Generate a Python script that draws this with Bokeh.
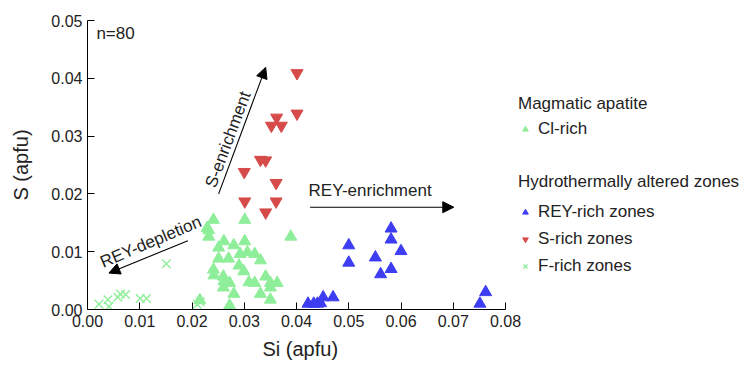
from bokeh.plotting import figure
from bokeh.models import (Legend, LegendItem, Label, Arrow, NormalHead, Title,
                          FixedTicker, PrintfTickFormatter, Range1d)
from bokeh.embed import file_html
from bokeh.resources import INLINE

FONT = "Liberation Sans"

# ---- data (Si apfu, S apfu) ----
cl_x = [0.0241, 0.0301, 0.0232, 0.0229, 0.0232, 0.0389, 0.0261, 0.0301, 0.0280, 0.0251,
        0.0292, 0.0320, 0.0306, 0.0251, 0.0270, 0.0331, 0.0290, 0.0241, 0.0299, 0.0260,
        0.0341, 0.0272, 0.0320, 0.0350, 0.0363, 0.0260, 0.0350, 0.0280, 0.0331, 0.0350,
        0.0272, 0.0215, 0.0309, 0.0242, 0.0261]
cl_y = [0.0155, 0.0155, 0.0137, 0.0141, 0.0126, 0.0126, 0.0118, 0.0118, 0.0111, 0.0107,
        0.0096, 0.0096, 0.0099, 0.0088, 0.0088, 0.0085, 0.0076, 0.0069, 0.0066, 0.0057,
        0.0057, 0.0046, 0.0046, 0.0046, 0.0046, 0.0038, 0.0038, 0.0027, 0.0027, 0.0017,
        0.0007, 0.0016, 0.0047, 0.0059, 0.0049]

rey_x = [0.0500, 0.0500, 0.0551, 0.0581, 0.0581, 0.0600, 0.0561, 0.0581, 0.0751, 0.0762,
         0.0422, 0.0433, 0.0440, 0.0446, 0.0451, 0.0470]
rey_y = [0.0111, 0.0081, 0.0090, 0.0140, 0.0121, 0.0101, 0.0061, 0.0070, 0.0010, 0.0030,
         0.0010, 0.0010, 0.0010, 0.0011, 0.0021, 0.0021]

s_x = [0.0401, 0.0401, 0.0362, 0.0352, 0.0371, 0.0331, 0.0341, 0.0300, 0.0361, 0.0301,
       0.0361, 0.0341]
s_y = [0.0409, 0.0339, 0.0332, 0.0318, 0.0318, 0.0259, 0.0258, 0.0238, 0.0219, 0.0187,
       0.0187, 0.0168]

f_x = [0.0022, 0.0039, 0.0041, 0.0058, 0.0063, 0.0073, 0.0101, 0.0113, 0.0151, 0.0210, 0.0216]
f_y = [0.0009, 0.0017, 0.0005, 0.0021, 0.0027, 0.0026, 0.0019, 0.0019, 0.0079, 0.0009, 0.0013]

x_ticks = [0.00, 0.01, 0.02, 0.03, 0.04, 0.05, 0.06, 0.07, 0.08]
y_ticks = [0.00, 0.01, 0.02, 0.03, 0.04, 0.05]
X_MAX = 0.08
Y_MAX = 0.05

GREEN = "#8FEE99"
BLUE = "#3D3DF2"
RED = "#D64A4A"

# frame spans the full width so the legend (right of the axes) is not clipped;
# the x axis itself is bounded to 0..0.08
FRAME_W = 745 - 87
AXIS_W = 418
x_end = X_MAX * FRAME_W / AXIS_W

p = figure(width=745, height=365, output_backend="svg", toolbar_location=None,
           x_range=Range1d(0, x_end), y_range=Range1d(0, Y_MAX),
           min_border_left=87, min_border_right=0, min_border_top=20, min_border_bottom=56)
p.outline_line_color = None
p.xgrid.visible = False
p.ygrid.visible = False

r_cl = p.scatter(cl_x, cl_y, marker="triangle", size=12, fill_color=GREEN, line_color=GREEN)
r_rey = p.scatter(rey_x, rey_y, marker="triangle", size=12, fill_color=BLUE, line_color=BLUE)
r_s = p.scatter(s_x, s_y, marker="inverted_triangle", size=12, fill_color=RED, line_color=RED)
r_f = p.scatter(f_x, f_y, marker="x", size=12, line_color=GREEN, line_width=1.4)

for ax, ticks in ((p.xaxis, x_ticks), (p.yaxis, y_ticks)):
    ax.ticker = FixedTicker(ticks=ticks)
    ax.formatter = PrintfTickFormatter(format="%.2f")
    ax.major_tick_in = 7
    ax.major_tick_out = 0
    ax.minor_tick_in = 0
    ax.minor_tick_out = 0
    ax.axis_line_color = "black"
    ax.major_tick_line_color = "black"
    ax.major_label_text_font = FONT
    ax.major_label_text_font_size = "16px"
    ax.major_label_text_color = "#222222"
    ax.axis_label_text_font = FONT
    ax.axis_label_text_font_size = "20px"
    ax.axis_label_text_font_style = "normal"
    ax.axis_label_text_color = "#222222"
p.xaxis.bounds = (0, X_MAX)
p.yaxis.bounds = (0, Y_MAX)
p.yaxis.axis_label = "S (apfu)"
p.xaxis.major_label_standoff = 5
p.yaxis.major_label_standoff = 5
p.yaxis.axis_label_standoff = 16

# x-axis title centred under the bounded axis (side panel, so not clipped)
p.add_layout(Title(text="Si (apfu)", align="left", offset=175, standoff=12,
                   text_font=FONT, text_font_size="20px", text_font_style="normal",
                   text_color="#222222"), "below")

# annotations
def label(x, y, text, angle=0.0, align="left"):
    p.add_layout(Label(x=x, y=y, text=text, angle=angle, angle_units="deg",
                       text_font=FONT, text_font_size="17px", text_color="#222222",
                       text_align=align, text_baseline="middle"))

label(0.0017, 0.0478, "n=80")
label(0.0423, 0.0206, "REY-enrichment")
label(0.0269, 0.0294, "S-enrichment", angle=69.6, align="center")
label(0.0121, 0.0117, "REY-depletion", angle=23, align="center")

def arrow(x0, y0, x1, y1):
    p.add_layout(Arrow(end=NormalHead(size=11, fill_color="black", line_color="black"),
                       x_start=x0, y_start=y0, x_end=x1, y_end=y1,
                       line_color="black", line_width=1.1))

arrow(0.0426, 0.0177, 0.0701, 0.0177)
arrow(0.0251, 0.0200, 0.0341, 0.0419)
arrow(0.0192, 0.0119, 0.0041, 0.0063)

def style(lg, standoff):
    lg.title_text_font = FONT
    lg.title_text_font_size = "17px"
    lg.title_text_font_style = "normal"
    lg.title_text_color = "#222222"
    lg.label_text_font = FONT
    lg.label_text_font_size = "17px"
    lg.label_text_color = "#222222"
    lg.border_line_color = None
    lg.background_fill_alpha = 0
    lg.padding = 0
    lg.margin = 0
    lg.spacing = 7
    lg.label_height = 20
    lg.glyph_height = 14
    lg.glyph_width = 14
    lg.label_standoff = 6
    lg.title_standoff = standoff

leg1 = Legend(items=[LegendItem(label="Cl-rich", renderers=[r_cl])],
              title="Magmatic apatite", location=(431, 170))
leg2 = Legend(items=[LegendItem(label="REY-rich zones", renderers=[r_rey]),
                     LegendItem(label="S-rich zones", renderers=[r_s]),
                     LegendItem(label="F-rich zones", renderers=[r_f])],
              title="Hydrothermally altered zones", location=(431, 33))
style(leg1, 5)
style(leg2, 10)
p.add_layout(leg1)
p.add_layout(leg2)

open("out.html", "w").write(file_html(p, INLINE))
